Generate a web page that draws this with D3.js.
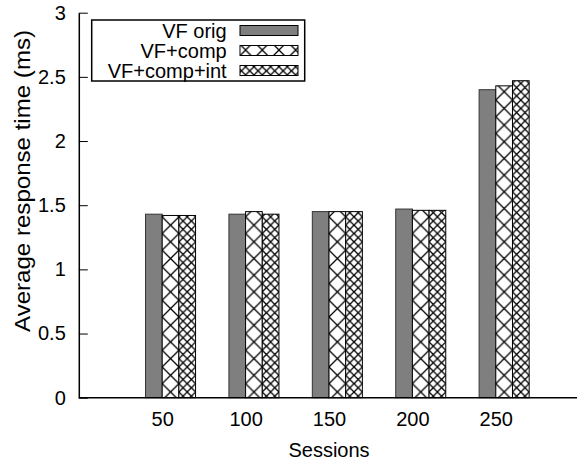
<!DOCTYPE html>
<html><head><meta charset="utf-8">
<script src="https://cdn.jsdelivr.net/npm/d3@7"></script>
<style>body{margin:0;background:#fff}svg{display:block}text{font-family:"Liberation Sans",Arial,sans-serif;fill:#000}</style>
</head><body>
<script>
const sessions = [50, 100, 150, 200, 250];
const seriesNames = ["VF orig", "VF+comp", "VF+comp+int"];
const vfOrig = [1.43, 1.43, 1.45, 1.47, 2.40];
const vfComp = [1.42, 1.45, 1.45, 1.46, 2.43];
const vfCompInt = [1.42, 1.43, 1.45, 1.46, 2.47];
const yTicks = [0, 0.5, 1, 1.5, 2, 2.5, 3];

const W = 577, H = 463;
const svg = d3.select("body").append("svg").attr("width", W).attr("height", H);
const x = d3.scaleLinear().domain([0, 300]).range([78.8, 579.2]);
const y = d3.scaleLinear().domain([0, 3]).range([397.7, 12.7]);
const bw = x(10) - x(0);

const defs = svg.append("defs");
function cross(id, size, x0) {
  const p = defs.append("pattern").attr("id", id).attr("patternUnits", "userSpaceOnUse")
    .attr("x", x0).attr("y", 0).attr("width", size).attr("height", size);
  p.append("rect").attr("width", size).attr("height", size).attr("fill", "#fff");
  p.append("path").attr("d", `M0,0L${size},${size}M${size},0L0,${size}`)
    .attr("stroke", "#000").attr("stroke-width", 1.3).attr("fill", "none");
}
cross("pComp", bw, x(50));
cross("pInt", bw / 2, x(50));
const fills = ["#7f7f7f", "url(#pComp)", "url(#pInt)"];
const series = [vfOrig, vfComp, vfCompInt];

const g = svg.append("g");
series.forEach((vals, k) => {
  g.selectAll(null).data(sessions).enter().append("rect")
    .attr("x", (d) => x(d + (k - 1) * 10))
    .attr("width", bw)
    .attr("y", (d, i) => y(vals[i]))
    .attr("height", (d, i) => y(0) - y(vals[i]))
    .attr("fill", fills[k]).attr("stroke", k === 0 ? "#333" : "#000").attr("stroke-width", 1);
});

// y axis
const ya = svg.append("g").attr("transform", `translate(${x(0)},0)`)
  .call(d3.axisLeft(y).tickValues(yTicks).tickFormat(d3.format("")).tickSizeInner(-9).tickSizeOuter(0).tickPadding(13));
ya.select(".domain").attr("stroke", "#000").attr("stroke-width", 1.5);
ya.selectAll(".tick line").attr("stroke", "#000").attr("stroke-width", 1);
ya.selectAll("text").attr("font-size", 20).attr("font-family", "Liberation Sans, Arial, sans-serif");

// x axis
const xa = svg.append("g").attr("transform", `translate(0,${y(0)})`)
  .call(d3.axisBottom(x).tickValues(sessions).tickSize(0).tickPadding(14));
xa.select(".domain").attr("stroke", "#000").attr("stroke-width", 1.5).attr("d", `M${x(0)},0H${W}`);
xa.selectAll("text").attr("font-size", 20).attr("font-family", "Liberation Sans, Arial, sans-serif");

svg.append("text").attr("x", (x(0) + x(300)) / 2).attr("y", 457).attr("text-anchor", "middle")
  .attr("font-size", 20).text("Sessions");
svg.append("text").attr("transform", `translate(30,181) rotate(-90)`)
  .attr("text-anchor", "middle").attr("font-size", 22.5)
  .attr("textLength", 302).attr("lengthAdjust", "spacingAndGlyphs").text("Average response time (ms)");

// legend
const lg = svg.append("g");
lg.append("rect").attr("x", 91.7).attr("y", 20).attr("width", 213).attr("height", 61)
  .attr("fill", "#fff").attr("stroke", "#000").attr("stroke-width", 1.5);
seriesNames.forEach((nm, k) => {
  const cy = 30.5 + k * 20;
  lg.append("text").attr("x", 226.7).attr("y", cy + 7).attr("text-anchor", "end").attr("font-size", 20).text(nm);
  lg.append("rect").attr("x", 240).attr("y", cy - 5).attr("width", 58).attr("height", 10)
    .attr("fill", fills[k]).attr("stroke", "#000").attr("stroke-width", 1);
});
</script>
</body></html>
